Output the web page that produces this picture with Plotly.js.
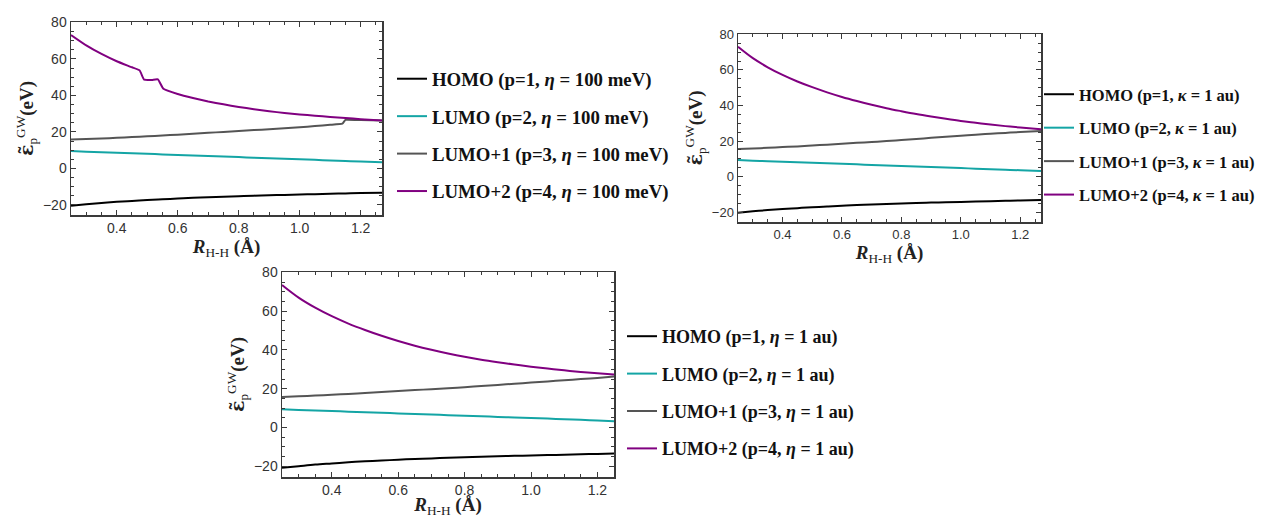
<!DOCTYPE html>
<html>
<head>
<meta charset="utf-8">
<script src="https://cdn.plot.ly/plotly-3.0.1.min.js"></script>
<style>html,body{margin:0;padding:0;background:#fff}#chart{width:1264px;height:518px}</style>
</head>
<body>
<div id="chart"></div>
<script>
// ---------- data ----------
const R  = [0.25,0.30,0.35,0.40,0.45,0.50,0.55,0.60,0.65,0.70,0.75,0.80,0.85,0.90,0.95,1.00,1.05,1.10,1.15,1.20,1.27];
const R3 = [0.25,0.30,0.35,0.40,0.45,0.50,0.55,0.60,0.65,0.70,0.75,0.80,0.85,0.90,0.95,1.00,1.05,1.10,1.15,1.20,1.25];

// Panel 1 (eta = 100 meV)
const p1_homo  = [-20.4,-19.6,-18.9,-18.3,-17.8,-17.3,-16.9,-16.5,-16.1,-15.8,-15.5,-15.2,-14.9,-14.7,-14.5,-14.3,-14.1,-13.9,-13.7,-13.5,-13.3];
const p1_lumo  = [9.5,9.2,8.9,8.6,8.3,8.0,7.7,7.4,7.1,6.8,6.5,6.2,5.9,5.6,5.3,5.0,4.7,4.4,4.1,3.8,3.4];
const p1_lumo1_R = [0.25,0.30,0.35,0.40,0.45,0.50,0.55,0.60,0.65,0.70,0.75,0.80,0.85,0.90,0.95,1.00,1.05,1.10,1.14,1.15,1.20,1.27];
const p1_lumo1   = [15.8,16.1,16.4,16.8,17.2,17.6,18.0,18.5,19.0,19.5,20.0,20.5,21.0,21.5,22.0,22.6,23.2,23.9,24.5,26.6,26.5,26.3];
const p1_lumo2_R = [0.25,0.30,0.35,0.40,0.45,0.475,0.49,0.515,0.535,0.553,0.60,0.65,0.70,0.75,0.80,0.85,0.90,0.95,1.00,1.05,1.10,1.15,1.20,1.27];
const p1_lumo2   = [73.1,67.4,62.7,58.7,55.4,53.7,48.6,48.5,48.8,43.6,40.8,38.6,36.7,35.1,33.7,32.4,31.3,30.4,29.6,28.9,28.2,27.6,27.0,26.3];

// Panel 2 (kappa = 1 au)
const p2_homo  = [-20.3,-19.5,-18.8,-18.2,-17.7,-17.2,-16.8,-16.4,-16.0,-15.7,-15.4,-15.1,-14.8,-14.6,-14.4,-14.2,-14.0,-13.8,-13.6,-13.4,-13.2];
const p2_lumo  = [9.3,9.0,8.7,8.4,8.1,7.8,7.5,7.2,6.9,6.6,6.3,6.0,5.7,5.4,5.1,4.8,4.5,4.2,3.9,3.6,3.2];
const p2_lumo1 = [15.5,15.8,16.2,16.6,17.0,17.5,18.0,18.5,19.0,19.5,20.0,20.6,21.2,21.8,22.4,23.0,23.6,24.1,24.6,25.1,25.7];
const p2_lumo2 = [73.0,66.6,61.5,57.2,53.5,50.3,47.4,44.8,42.5,40.4,38.5,36.8,35.2,33.8,32.5,31.3,30.3,29.3,28.4,27.6,26.6];

// Panel 3 (eta = 1 au)
const p3_homo  = [-20.7,-19.9,-19.1,-18.5,-17.9,-17.4,-17.0,-16.6,-16.2,-15.9,-15.6,-15.3,-15.0,-14.8,-14.6,-14.4,-14.2,-14.0,-13.8,-13.6,-13.4];
const p3_lumo  = [9.4,9.1,8.8,8.5,8.2,7.9,7.6,7.3,7.0,6.7,6.4,6.1,5.8,5.5,5.2,4.9,4.6,4.3,4.0,3.6,3.2];
const p3_lumo1 = [15.8,16.1,16.5,16.9,17.3,17.8,18.3,18.8,19.3,19.8,20.3,20.8,21.4,22.0,22.6,23.2,23.8,24.4,25.0,25.6,26.3];
const p3_lumo2 = [73.5,67.0,61.8,57.4,53.6,50.3,47.3,44.6,42.2,40.1,38.2,36.5,35.0,33.7,32.5,31.4,30.4,29.5,28.7,28.0,27.3];

const names1 = ['HOMO (p=1, <i>η</i> = 100 meV)','LUMO (p=2, <i>η</i> = 100 meV)','LUMO+1 (p=3, <i>η</i> = 100 meV)','LUMO+2 (p=4, <i>η</i> = 100 meV)'];
const names2 = ['HOMO (p=1, <i>κ</i> = 1 au)','LUMO (p=2, <i>κ</i> = 1 au)','LUMO+1 (p=3, <i>κ</i> = 1 au)','LUMO+2 (p=4, <i>κ</i> = 1 au)'];
const names3 = ['HOMO (p=1, <i>η</i> = 1 au)','LUMO (p=2, <i>η</i> = 1 au)','LUMO+1 (p=3, <i>η</i> = 1 au)','LUMO+2 (p=4, <i>η</i> = 1 au)'];
const colors = ['#000000','#14a5a5','#555555','#800080'];

// ---------- traces ----------
function tr(x, y, name, ci, ax, leg, grp, smooth){
  return {x:x, y:y, name:name, type:'scatter', mode:'lines',
    line:{color:colors[ci], width:2, shape:'spline', smoothing:smooth},
    xaxis:ax[0], yaxis:ax[1], legend:leg, legendgroup:grp, showlegend:true, hoverinfo:'skip'};
}
const a1=['x','y'], a2=['x2','y2'], a3=['x3','y3'];
const data = [
  tr(R, p1_homo, names1[0], 0, a1, 'legend', 'a0', 1),
  tr(R, p1_lumo, names1[1], 1, a1, 'legend', 'a1', 1),
  tr(p1_lumo1_R, p1_lumo1, names1[2], 2, a1, 'legend', 'a2', 0.3),
  tr(p1_lumo2_R, p1_lumo2, names1[3], 3, a1, 'legend', 'a3', 0.4),
  tr(R, p2_homo, names2[0], 0, a2, 'legend2', 'b0', 1),
  tr(R, p2_lumo, names2[1], 1, a2, 'legend2', 'b1', 1),
  tr(R, p2_lumo1, names2[2], 2, a2, 'legend2', 'b2', 1),
  tr(R, p2_lumo2, names2[3], 3, a2, 'legend2', 'b3', 1),
  tr(R3, p3_homo, names3[0], 0, a3, 'legend3', 'c0', 1),
  tr(R3, p3_lumo, names3[1], 1, a3, 'legend3', 'c1', 1),
  tr(R3, p3_lumo1, names3[2], 2, a3, 'legend3', 'c2', 1),
  tr(R3, p3_lumo2, names3[3], 3, a3, 'legend3', 'c3', 1)
];

// ---------- layout ----------
const W=1264, H=518;
const frame = '#3a3a3a';
function xax(px0, px1, anchor, fs, so, xmax){
  return {domain:[px0/W, px1/W], anchor:anchor, range:[0.25,xmax],
    tickvals:[0.4,0.6,0.8,1.0,1.2], ticktext:['0.4','0.6','0.8','1.0','1.2'],
    ticks:'inside', ticklen:5, tickcolor:frame, tickwidth:1,
    minor:{dtick:0.05, tick0:0, ticks:'inside', ticklen:3, tickcolor:frame},
    showline:true, linecolor:frame, linewidth:1.5, mirror:'ticks',
    showgrid:false, zeroline:false,
    tickfont:{family:'Liberation Sans, Arial, sans-serif', size:fs, color:'#333'},
    title:{text:'<b><i>R</i></b><sub>H-H</sub> <b>(Å)</b>', standoff:so,
      font:{family:'Liberation Serif, serif', size:19, color:'#222'}}};
}
function yax(py0, py1, anchor, fs){
  return {domain:[1-py1/H, 1-py0/H], anchor:anchor, range:[-25.5,80.2],
    tickvals:[-20,0,20,40,60,80], ticktext:['−20','0','20','40','60','80'],
    ticks:'inside', ticklen:5, tickcolor:frame, tickwidth:1,
    minor:{dtick:5, tick0:0, ticks:'inside', ticklen:3, tickcolor:frame},
    showline:true, linecolor:frame, linewidth:1.5, mirror:'ticks',
    showgrid:false, zeroline:false,
    tickfont:{family:'Liberation Sans, Arial, sans-serif', size:fs, color:'#333'},
    title:{text:'<span style="font-family:DejaVu Serif"><b>ε̃</b></span><sub>p</sub><sup>GW</sup><b>(eV)</b>', standoff:4,
      font:{family:'Liberation Serif, serif', size:19, color:'#222'}}};
}
function leg(px, py, fs, gap){
  return {x:px/W, y:1-py/H, xanchor:'left', yanchor:'top', bgcolor:'rgba(0,0,0,0)',
    font:{family:'Liberation Serif, serif', size:fs, color:'#111', weight:'bold'},
    tracegroupgap:gap, itemwidth:30, valign:'middle', traceorder:'grouped'};
}
const layout = {
  width:W, height:H, margin:{l:0,r:0,t:0,b:0},
  paper_bgcolor:'#fff', plot_bgcolor:'#fff', showlegend:true,
  xaxis:  xax(71, 382, 'y', 14, 2, 1.27),
  yaxis:  yax(22, 215, 'x', 14),
  xaxis2: xax(738, 1041, 'y2', 13, 1, 1.27),
  yaxis2: yax(34, 222, 'x2', 13),
  xaxis3: xax(282, 614, 'y3', 14, 9, 1.25),
  yaxis3: yax(272, 477, 'x3', 14),
  legend:  leg(392, 60, 18.8, 10),
  legend2: leg(1039, 77, 16.5, 9),
  legend3: leg(622, 318, 18, 11)
};
Plotly.newPlot('chart', data, layout, {displayModeBar:false, staticPlot:true});
</script>
</body>
</html>
